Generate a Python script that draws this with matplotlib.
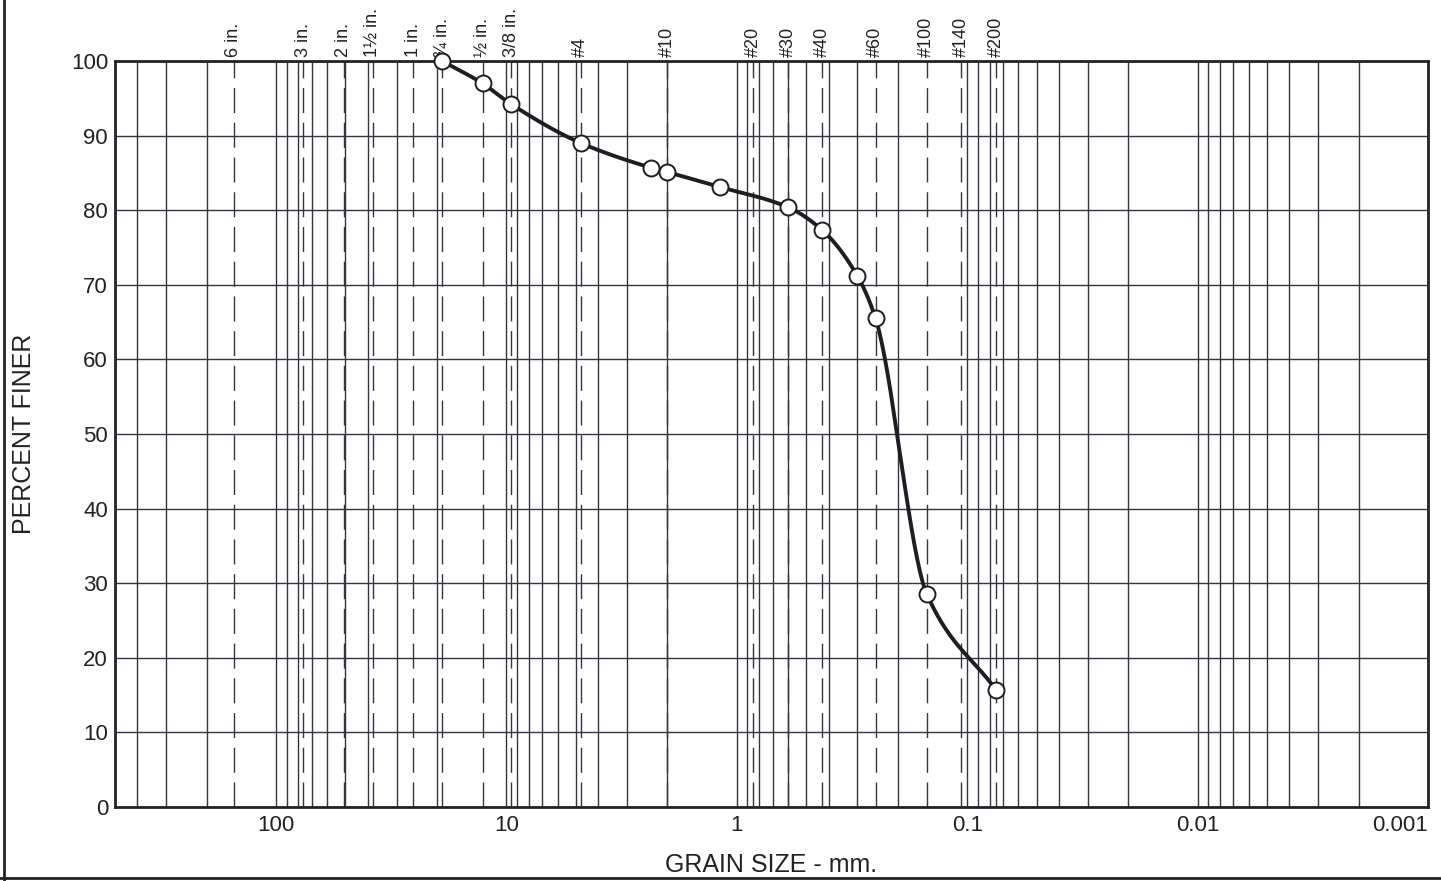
import numpy as np
import matplotlib.pyplot as plt
from matplotlib.ticker import LogLocator, FixedLocator, NullFormatter
from matplotlib.lines import Line2D

plt.rcParams['font.family'] = ['Liberation Sans', 'DejaVu Sans']

# sieve openings shown along the top (mm)
sieve_labels = ["6 in.", "3 in.", "2 in.", "1½ in.", "1 in.", "¾ in.", "½ in.", "3/8 in.",
                "#4", "#10", "#20", "#30", "#40", "#60", "#100", "#140", "#200"]
sieve_mm = [152.4, 76.2, 50.8, 38.1, 25.4, 19.05, 12.7, 9.525,
            4.75, 2.0, 0.85, 0.6, 0.425, 0.25, 0.15, 0.106, 0.075]

# test results
grain_mm = [19.05, 12.7, 9.525, 4.75, 2.36, 2.0, 1.18, 0.6, 0.425, 0.3, 0.25, 0.15, 0.075]
pct_finer = [100, 97.0, 94.2, 89.0, 85.7, 85.1, 83.1, 80.4, 77.3, 71.2, 65.5, 28.6, 15.7]

x_ticks = [100, 10, 1, 0.1, 0.01, 0.001]
x_ticklabels = ["100", "10", "1", "0.1", "0.01", "0.001"]


def pchip(x, y, xn):
    # monotone cubic through the measured points, just for drawing the curve
    x = np.asarray(x, float)
    y = np.asarray(y, float)
    h = np.diff(x)
    d = np.diff(y) / h
    n = len(x)
    m = np.zeros(n)
    for k in range(1, n - 1):
        if d[k - 1] * d[k] > 0:
            w1 = 2 * h[k] + h[k - 1]
            w2 = h[k] + 2 * h[k - 1]
            m[k] = (w1 + w2) / (w1 / d[k - 1] + w2 / d[k])
    m[0] = d[0]
    m[-1] = d[-1]
    idx = np.clip(np.searchsorted(x, xn) - 1, 0, n - 2)
    t = (xn - x[idx]) / h[idx]
    h00 = 2 * t**3 - 3 * t**2 + 1
    h10 = t**3 - 2 * t**2 + t
    h01 = -2 * t**3 + 3 * t**2
    h11 = t**3 - t**2
    return h00 * y[idx] + h10 * h[idx] * m[idx] + h01 * y[idx + 1] + h11 * h[idx] * m[idx + 1]


fig = plt.figure(figsize=(14.41, 8.81), dpi=100)
ax = fig.add_axes([115 / 1441, 74 / 881, 1313 / 1441, 746 / 881])

grid_col = '#35353f'
ax.set_xscale('log')
ax.set_xlim(500, 0.001)
ax.set_ylim(0, 100)
ax.xaxis.set_major_locator(FixedLocator(x_ticks))
ax.set_xticklabels(x_ticklabels)
ax.xaxis.set_minor_locator(LogLocator(base=10, subs=np.arange(1, 10), numticks=50))
ax.xaxis.set_minor_formatter(NullFormatter())
ax.set_yticks(np.arange(0, 101, 10))
ax.grid(which='both', axis='x', color=grid_col, lw=1.0)
ax.grid(which='major', axis='y', color=grid_col, lw=1.0)
ax.tick_params(which='both', length=0, labelsize=16, colors='#222222')
ax.tick_params(axis='x', pad=6)
ax.tick_params(axis='y', pad=5)
ax.get_xticklabels()[-1].set_horizontalalignment('right')
ax.set_axisbelow(True)

for s in ax.spines.values():
    s.set_linewidth(2)
    s.set_color('#222228')

for d, lab in zip(sieve_mm, sieve_labels):
    ax.axvline(d, color=grid_col, lw=1.0, dashes=(18, 7), zorder=1)
    ax.text(d, 1.006, lab, transform=ax.get_xaxis_transform(), rotation=90,
            ha='center', va='bottom', fontsize=13, color='#222222')

# smooth curve in log space
lx = np.log10(grain_mm)[::-1]
ly = np.array(pct_finer)[::-1]
xs = np.linspace(lx[0], lx[-1], 400)
ax.plot(10**xs, pchip(lx, ly, xs), color='#1e1e22', lw=2.8, zorder=3, clip_on=False)
ax.plot(grain_mm, pct_finer, 'o', ms=11.5, mfc='white', mec='#1e1e22', mew=1.4,
        zorder=4, clip_on=False)

ax.set_ylabel("PERCENT FINER", fontsize=18, color='#222222')
ax.yaxis.set_label_coords(-0.06, 0.5)
ax.set_xlabel("GRAIN SIZE - mm.", fontsize=18, color='#222222')
ax.xaxis.set_label_coords(0.5, -0.062)

# scanned sheet border
fig.add_artist(Line2D([4 / 1441, 4 / 1441], [0, 1], color='#222228', lw=2))
fig.add_artist(Line2D([0, 1], [3 / 881, 3 / 881], color='#222228', lw=2))

fig.savefig("out.png", dpi=100)
plt.close(fig)
